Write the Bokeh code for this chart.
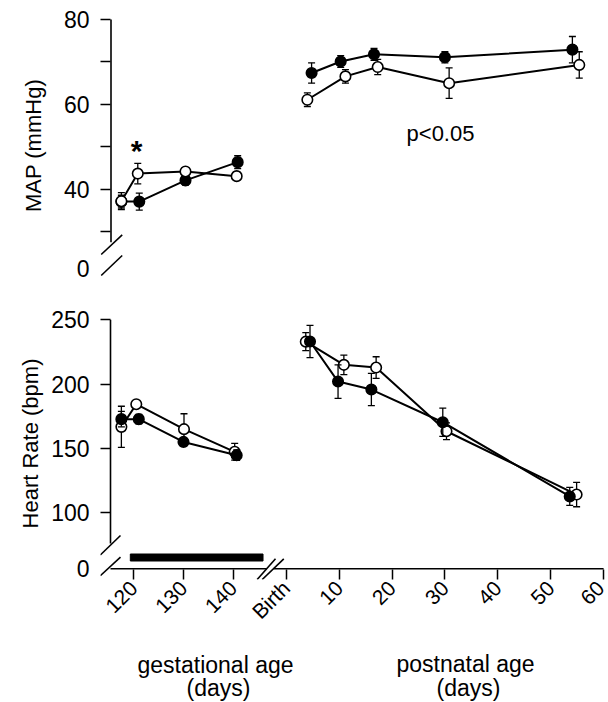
import math
from bokeh.plotting import figure
from bokeh.models import Range1d, FixedTicker, Label, ColumnDataSource
from bokeh.layouts import column
from bokeh.embed import file_html
from bokeh.resources import INLINE
from bokeh.core.properties import value

FONT = "Liberation Sans"

# ---------------- data ----------------
# MAP (mmHg) - gestational age (days)
map_gest_days_open = [117.5, 120.8, 130.4, 140.7]
map_gest_open = [37.2, 43.7, 44.2, 43.1]
map_gest_open_sem = [2.0, 2.4, 0.8, 1.0]
map_gest_days_filled = [117.5, 121.1, 130.4, 140.9]
map_gest_filled = [37.1, 37.1, 42.1, 46.4]
map_gest_filled_sem = [1.5, 2.0, 1.1, 1.5]
# MAP (mmHg) - postnatal age (days)
map_post_days_open = [4.0, 11.2, 17.3, 30.8, 55.4]
map_post_open = [61.1, 66.6, 68.8, 65.0, 69.3]
map_post_open_sem = [1.6, 1.6, 1.8, 3.6, 3.1]
map_post_days_filled = [4.8, 10.3, 16.6, 30.0, 54.1]
map_post_filled = [67.4, 70.1, 71.8, 71.1, 72.9]
map_post_filled_sem = [2.4, 1.4, 1.4, 1.3, 3.1]
# Heart rate (bpm) - gestational age
hr_gest_days_open = [117.5, 120.5, 130.1, 140.3]
hr_gest_open = [166.8, 184.4, 165.0, 147.4]
hr_gest_open_sem = [16.0, 2.0, 12.0, 6.5]
hr_gest_days_filled = [117.5, 121.0, 130.0, 140.7]
hr_gest_filled = [172.8, 172.8, 155.1, 144.8]
hr_gest_filled_sem = [6.0, 3.6, 3.0, 4.0]
# Heart rate (bpm) - postnatal age
hr_post_days_open = [3.7, 10.9, 17.0, 30.3, 54.9]
hr_post_open = [233.0, 215.0, 212.9, 163.4, 114.2]
hr_post_open_sem = [7.0, 7.6, 8.4, 6.5, 9.5]
hr_post_days_filled = [4.5, 9.8, 16.1, 29.6, 53.6]
hr_post_filled = [233.1, 202.0, 195.8, 170.4, 112.7]
hr_post_filled_sem = [12.5, 13.0, 12.5, 11.0, 7.0]

# treatment period (black bar), gestational days
treatment_start = [119.3]
treatment_end = [146.0]

gest_ticks = [120, 130, 140]
post_ticks = [0, 10, 20, 30, 40, 50, 60]
post_tick_labels = ["Birth", "10", "20", "30", "40", "50", "60"]
map_ticks = [40, 60, 80]
map_minor_ticks = [30, 50, 70]
hr_ticks = [100, 150, 200, 250]
x_titles = ["gestational age", "(days)", "postnatal age", "(days)"]

# ---------------- layout (page pixels) ----------------
FIG_W = 608
FRAME_L, FRAME_R = 100, 606
BIRTH_PX, POST_PX_PER_DAY = 285.7, 5.29
G120_PX, GEST_PX_PER_DAY = 133.3, 4.97
XP0 = (FRAME_L - BIRTH_PX) / POST_PX_PER_DAY
XP1 = (FRAME_R - BIRTH_PX) / POST_PX_PER_DAY
XG0 = 120 + (FRAME_L - G120_PX) / GEST_PX_PER_DAY
XG1 = 120 + (FRAME_R - G120_PX) / GEST_PX_PER_DAY

TOP_FT, TOP_FB, TOP_END = 10, 280, 293
MAP80_PX, MAP_PX_PER_UNIT = 19.0, 4.245
MAP1 = 80 + (MAP80_PX - TOP_FT) / MAP_PX_PER_UNIT
MAP0 = 80 - (TOP_FB - MAP80_PX) / MAP_PX_PER_UNIT

BOT_FT, BOT_FB, BOT_END = 307, 579, 635
HR250_PX, HR_PX_PER_UNIT = 319.3, 1.2867
HR1 = 250 + (HR250_PX - BOT_FT) / HR_PX_PER_UNIT
HR0 = 250 - (BOT_FB - HR250_PX) / HR_PX_PER_UNIT
PAGE_H = 702


def px_post(px):
    return (px - BIRTH_PX) / POST_PX_PER_DAY


def py_map(py):
    return 80 - (py - MAP80_PX) / MAP_PX_PER_UNIT


def py_hr(py):
    return 250 - (py - HR250_PX) / HR_PX_PER_UNIT


def gest_to_post(g):
    return XP0 + (g - XG0) * (XP1 - XP0) / (XG1 - XG0)


def make_fig(height, bt, bb, y0, y1, x_axis, y_axis=True):
    p = figure(width=FIG_W, height=height,
               x_range=Range1d(XP0, XP1), y_range=Range1d(y0, y1),
               output_backend="svg", toolbar_location=None, title=None,
               x_axis_location="below" if x_axis else None,
               y_axis_location="left" if y_axis else None,
               min_border_left=FRAME_L, min_border_right=FIG_W - FRAME_R,
               min_border_top=bt, min_border_bottom=bb)
    p.extra_x_ranges = {"gest": Range1d(XG0, XG1)}
    p.outline_line_color = None
    p.grid.visible = False
    p.background_fill_color = "white"
    p.border_fill_color = "white"
    return p


def style_yaxis(ya, label_ticks, mark_ticks, zero_pos, label, standoff):
    ya.ticker = FixedTicker(ticks=label_ticks + [zero_pos], minor_ticks=mark_ticks)
    ov = {t: str(t) for t in label_ticks}
    ov[zero_pos] = "0"
    ya.major_label_overrides = ov
    ya.axis_line_color = None
    ya.major_tick_in = 0
    ya.major_tick_out = 0
    ya.minor_tick_in = 10
    ya.minor_tick_out = 0
    ya.minor_tick_line_width = 1.5
    ya.minor_tick_line_color = "black"
    ya.major_label_text_font = FONT
    ya.major_label_text_font_size = "23px"
    ya.major_label_text_color = "black"
    ya.major_label_standoff = 11
    ya.axis_label = label
    ya.axis_label_text_font = FONT
    ya.axis_label_text_font_size = "22px"
    ya.axis_label_text_font_style = "normal"
    ya.axis_label_text_color = "black"
    ya.axis_label_standoff = standoff


def series(p, xs, ys, errs, filled, range_name):
    lo = [y - e for y, e in zip(ys, errs)]
    hi = [y + e for y, e in zip(ys, errs)]
    src = ColumnDataSource(dict(x=xs, y=ys, lo=lo, hi=hi))
    p.line("x", "y", source=src, line_color="black", line_width=2, x_range_name=range_name)
    p.segment(x0="x", y0="lo", x1="x", y1="hi", source=src, line_color="black",
              line_width=1.3, x_range_name=range_name)
    for col in ("lo", "hi"):
        p.scatter("x", col, source=src, marker="dash", size=7, line_color="black",
                  line_width=1.3, x_range_name=range_name)
    p.scatter("x", "y", source=src, marker="circle", size=10.5,
              fill_color="black" if filled else "white", line_color="black",
              line_width=1.6, x_range_name=range_name)


def strokes(p, segs):
    p.segment(x0=[s[0] for s in segs], y0=[s[1] for s in segs],
              x1=[s[2] for s in segs], y1=[s[3] for s in segs],
              line_color="black", line_width=1.6)


# ---------------- top panel: MAP ----------------
top = make_fig(TOP_END, TOP_FT, TOP_END - TOP_FB, MAP0, MAP1, False)
style_yaxis(top.yaxis[0], map_ticks, map_minor_ticks + map_ticks,
            round(py_map(268), 4), "MAP (mmHg)", 15)

series(top, map_gest_days_filled, map_gest_filled, map_gest_filled_sem, True, "gest")
series(top, map_gest_days_open, map_gest_open, map_gest_open_sem, False, "gest")
series(top, map_post_days_filled, map_post_filled, map_post_filled_sem, True, "default")
series(top, map_post_days_open, map_post_open, map_post_open_sem, False, "default")

# y axis line (broken) and break marks
strokes(top, [
    (px_post(110.5), py_map(241.7), px_post(110.5), max(map_ticks)),
    (px_post(100.7), py_map(254), px_post(121.7), py_map(234.3)),
    (px_post(100.7), py_map(275), px_post(121.7), py_map(255)),
])
top.add_layout(Label(x=px_post(136), y=py_map(150), text="*", text_font=FONT,
                     text_font_size="30px", text_font_style="bold", text_color="black",
                     text_align="center", text_baseline="middle"))
top.add_layout(Label(x=px_post(440), y=py_map(133.3), text="p<0.05", text_font=FONT,
                     text_font_size="22px", text_color="black",
                     text_align="center", text_baseline="alphabetic"))

# ---------------- bottom panel: heart rate ----------------
bot = make_fig(BOT_END - TOP_END, BOT_FT - TOP_END, BOT_END - BOT_FB, HR0, HR1, True)
style_yaxis(bot.yaxis[0], hr_ticks, hr_ticks, round(py_hr(568.3), 4),
            "Heart Rate (bpm)", 5)

xa = bot.xaxis[0]
gest_tick_pos = [round(gest_to_post(g), 4) for g in gest_ticks]
xa.ticker = FixedTicker(ticks=gest_tick_pos + post_ticks, minor_ticks=[])
overrides = {pos: str(g) for pos, g in zip(gest_tick_pos, gest_ticks)}
overrides.update({t: lab for t, lab in zip(post_ticks, post_tick_labels)})
xa.major_label_overrides = overrides
xa.major_label_orientation = math.pi / 4
xa.axis_line_color = None
xa.major_tick_out = 0
xa.major_tick_in = 10
xa.major_tick_line_width = 1.5
xa.major_tick_line_color = "black"
xa.major_label_text_font = FONT
xa.major_label_text_font_size = "21px"
xa.major_label_text_color = "black"
xa.major_label_standoff = 5

bot.hbar(y=[py_hr(557)], left=treatment_start, right=treatment_end,
         height=7 / HR_PX_PER_UNIT, color="black", x_range_name="gest")

series(bot, hr_gest_days_open, hr_gest_open, hr_gest_open_sem, False, "gest")
series(bot, hr_gest_days_filled, hr_gest_filled, hr_gest_filled_sem, True, "gest")
series(bot, hr_post_days_open, hr_post_open, hr_post_open_sem, False, "default")
series(bot, hr_post_days_filled, hr_post_filled, hr_post_filled_sem, True, "default")

x_line_y = py_hr(568.3)
strokes(bot, [
    # y axis line and its break
    (px_post(110), py_hr(543), px_post(110), max(hr_ticks)),
    (px_post(99.8), py_hr(554.5), px_post(120), py_hr(535)),
    (px_post(99.8), py_hr(575.2), px_post(120), py_hr(556.7)),
    # x axis line with a break between gestation and birth
    (px_post(110), x_line_y, px_post(266.5), x_line_y),
    (px_post(273.3), x_line_y, max(post_ticks), x_line_y),
    (px_post(256.7), py_hr(579), px_post(275), py_hr(558.3)),
    (px_post(261.7), py_hr(579), px_post(283.3), py_hr(558.3)),
])

# ---------------- axis titles below ----------------
lab = make_fig(PAGE_H - BOT_END, 0, 0, PAGE_H, BOT_END, False, y_axis=False)
lab.text(x=[px_post(215), px_post(218), px_post(465), px_post(468)],
         y=[664, 687, 663.5, 687.3], text=x_titles,
         text_font=value(FONT), text_font_size=value("23px"), text_color="black",
         text_align="center", text_baseline="alphabetic")

layout = column(top, bot, lab, spacing=0)
open("out.html", "w").write(file_html(layout, INLINE))
